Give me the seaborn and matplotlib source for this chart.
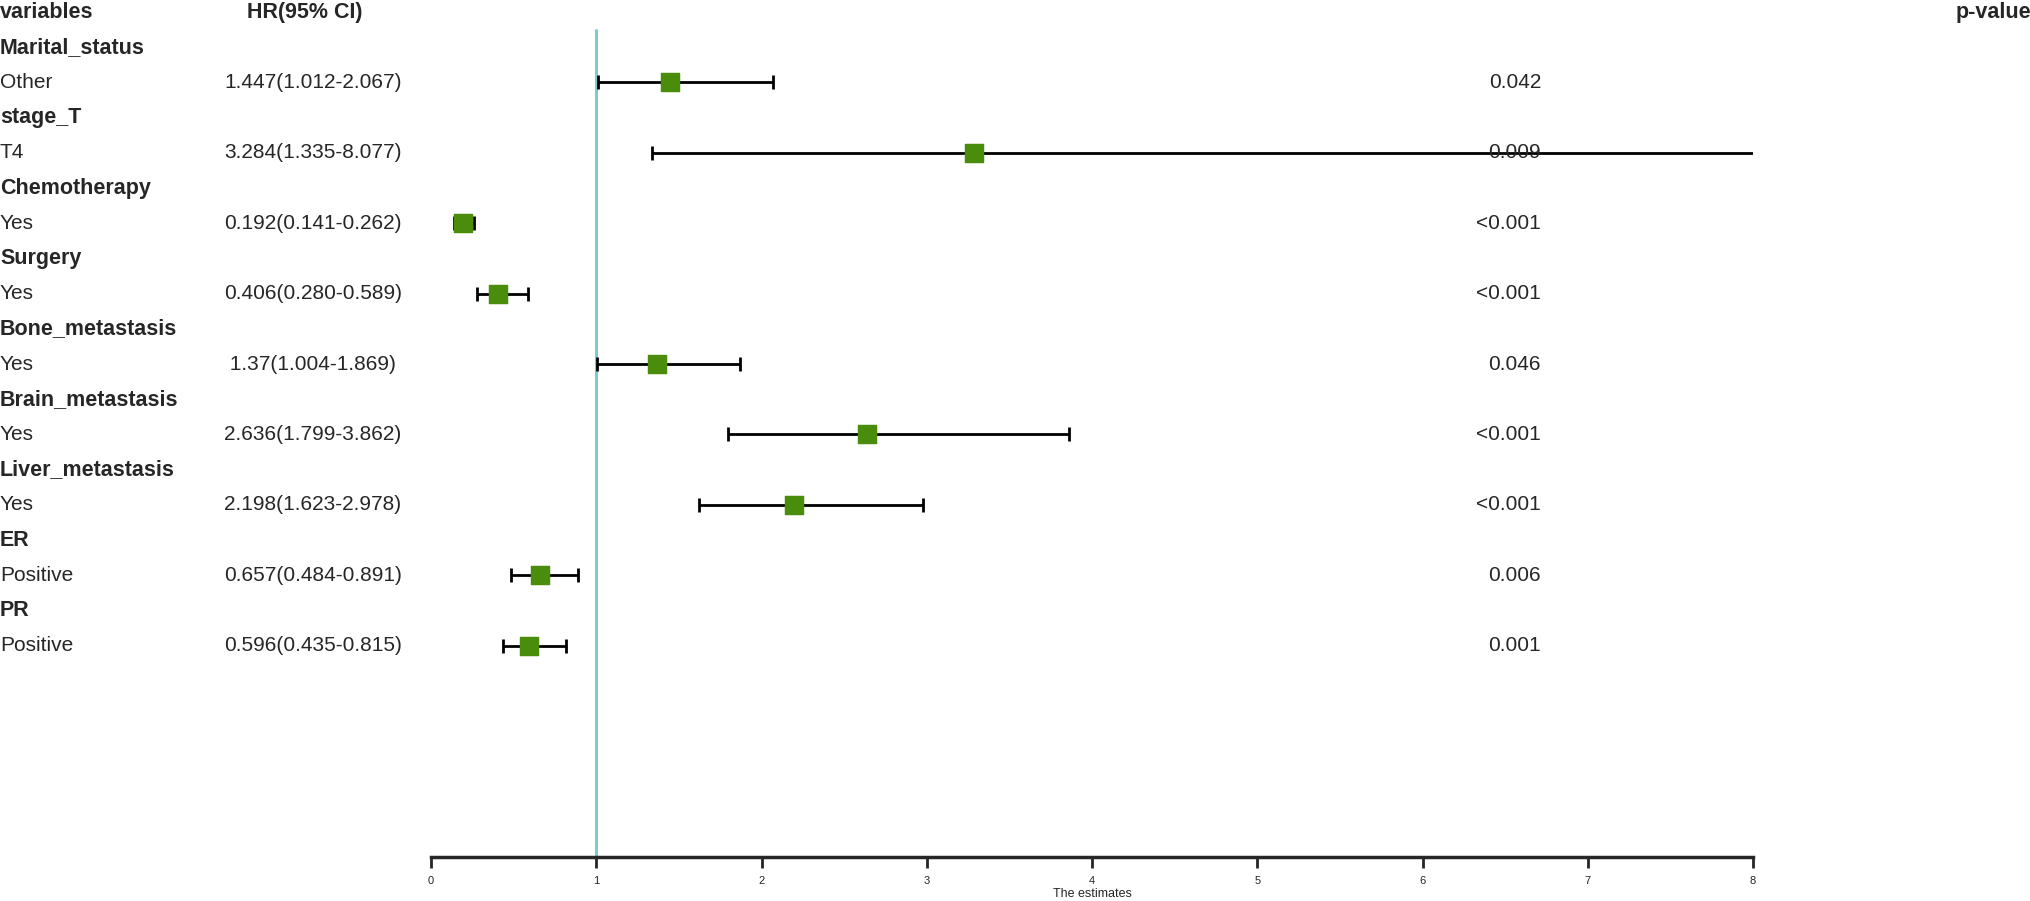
import matplotlib
matplotlib.use("Agg")
import matplotlib.pyplot as plt
import matplotlib.transforms as mtransforms
import seaborn as sns

sns.set_style("white")
plt.rcParams['font.family'] = ['Liberation Sans', 'DejaVu Sans']

groups = ["Marital_status", "stage_T", "Chemotherapy", "Surgery", "Bone_metastasis",
          "Brain_metastasis", "Liver_metastasis", "ER", "PR"]
levels = ["Other", "T4", "Yes", "Yes", "Yes", "Yes", "Yes", "Positive", "Positive"]
hr = [1.447, 3.284, 0.192, 0.406, 1.37, 2.636, 2.198, 0.657, 0.596]
lo = [1.012, 1.335, 0.141, 0.280, 1.004, 1.799, 1.623, 0.484, 0.435]
hi = [2.067, 8.077, 0.262, 0.589, 1.869, 3.862, 2.978, 0.891, 0.815]
hr_text = ["1.447(1.012-2.067)", "3.284(1.335-8.077)", "0.192(0.141-0.262)", "0.406(0.280-0.589)",
           " 1.37(1.004-1.869)", "2.636(1.799-3.862)", "2.198(1.623-2.978)", "0.657(0.484-0.891)",
           "0.596(0.435-0.815)"]
pvals = ["0.042", "0.009", "<0.001", "<0.001", "0.046", "<0.001", "<0.001", "0.006", "0.001"]
xticks = [0, 1, 2, 3, 4, 5, 6, 7, 8]

fig = plt.figure(figsize=(20.31, 9.01), dpi=100)
ax = fig.add_axes([431/2031, 1-857/901, (1753-431)/2031, 857/901])
ax.set_xlim(0, 8)
ax.set_ylim(857, 0)

step = 35.2
y0 = 12
trans = mtransforms.blended_transform_factory(fig.transFigure, ax.transData)

def ypos(i):
    return y0 + step * i

ax.plot([1, 1], [30, 857], color="#7ccbd3", lw=2.2, zorder=1)

fs = 15
ax.text(0.0, ypos(0), "variables", transform=trans, fontsize=15.5, fontweight="bold", va="center", ha="left")
ax.text(247/2031, ypos(0), "HR(95% CI)", transform=trans, fontsize=15.5, fontweight="bold", va="center", ha="left")
ax.text(1.0, ypos(0), "p-value", transform=trans, fontsize=15.5, fontweight="bold", va="center", ha="right")

ys = []
for k, g in enumerate(groups):
    yg = ypos(1 + 2 * k)
    yl = ypos(2 + 2 * k)
    ys.append(yl)
    ax.text(0.0, yg, g, transform=trans, fontsize=15.5, fontweight="bold", va="center", ha="left")
    ax.text(0.0, yl, levels[k], transform=trans, fontsize=fs, va="center", ha="left")
    ax.text(224/2031, yl, hr_text[k], transform=trans, fontsize=fs, va="center", ha="left")
    ax.text(1541/2031, yl, pvals[k], transform=trans, fontsize=fs, va="center", ha="right")

xerr = [[h - l for h, l in zip(hr, lo)], [u - h for h, u in zip(hr, hi)]]
ax.errorbar(hr, ys, xerr=xerr, fmt="none", ecolor="black", elinewidth=2, capsize=5, capthick=2, zorder=2)
sns.scatterplot(x=hr, y=ys, marker="s", s=170, color="#4a8c0c", edgecolor="#4a8c0c", ax=ax, zorder=3)

for s in ["top", "right", "left"]:
    ax.spines[s].set_visible(False)
ax.spines["bottom"].set_linewidth(2.5)
ax.set_yticks([])
ax.set_xticks(xticks)
ax.set_xticklabels([str(t) for t in xticks], fontsize=8)
ax.tick_params(axis="x", length=8, width=2, direction="out", bottom=True, pad=6)
ax.set_xlabel("The estimates", fontsize=9, labelpad=1)

fig.savefig("out.png", dpi=100)
